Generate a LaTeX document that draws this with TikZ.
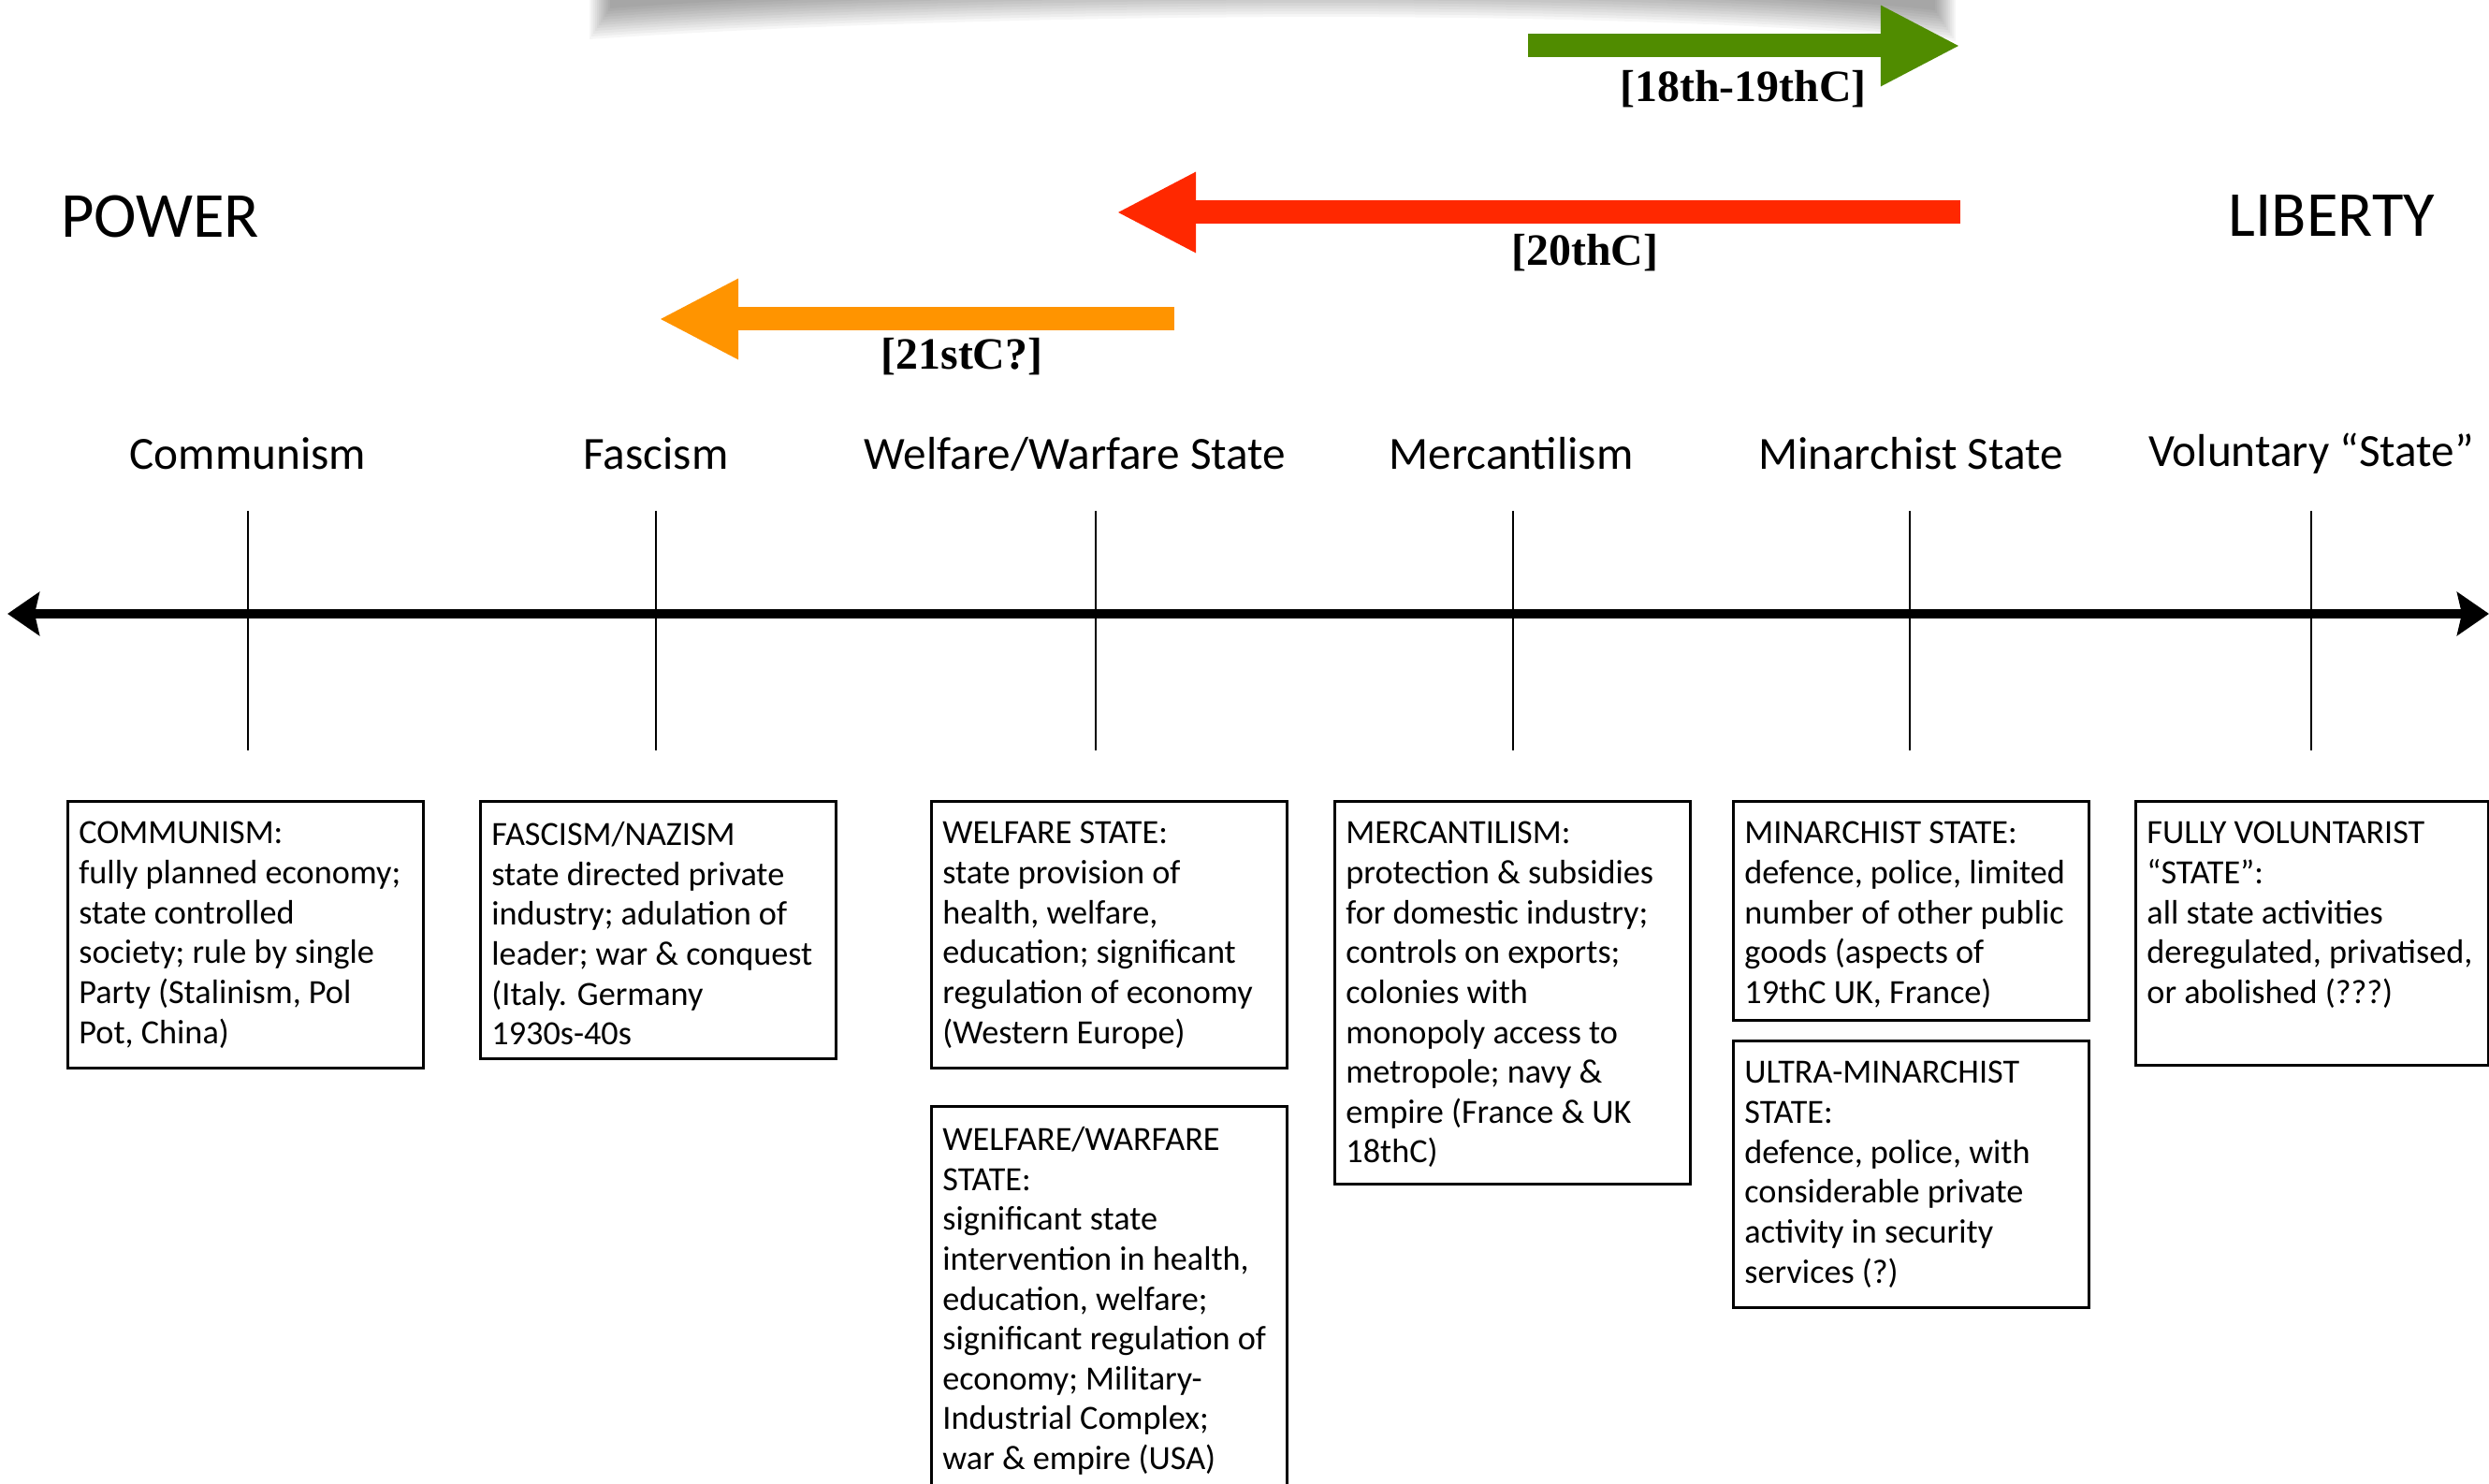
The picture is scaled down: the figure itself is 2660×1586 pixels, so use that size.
\documentclass[tikz,border=0pt]{standalone}
\usepackage{fontspec}
\newfontfamily\gill{Carlito}
\newfontfamily\bookish{Liberation Serif}
\usetikzlibrary{arrows.meta}

\definecolor{eragreen}{RGB}{80,140,0}
\definecolor{erared}{RGB}{255,40,0}
\definecolor{eraorange}{RGB}{255,148,0}

\newcommand{\boxtext}[3][3.56cm]{\parbox[t][#2][t]{#1}{\raggedright #3}}

\begin{document}
\begin{tikzpicture}[
    x=0.01cm, y=-0.01cm,
    pole/.style={font=\gill\fontsize{19.5}{22}\selectfont},
    regime/.style={font=\gill\fontsize{14}{17}\selectfont},
    infobox/.style={draw, line width=0.8pt, anchor=north west, inner xsep=0.12cm, inner ysep=0.22cm,
        font=\gill\fontsize{10.3}{12.12}\selectfont},
    era/.style={line width=0.25cm, -{Triangle[length=0.85cm 0, width=0.8cm 0]}},
    eralbl/.style={font=\bookish\bfseries\fontsize{13.6}{15}\selectfont},
    tick/.style={line width=0.75pt}
]
\useasboundingbox (0,0) rectangle (2660,1586);

% Shadow at the top
\foreach \k in {0,...,11} {
    \fill[black, opacity=0.035] (630+2*\k,0) -- (630+2*\k,42-3*\k)
        .. controls (1000,16-3*\k) and (1700,4-3*\k) .. (2090-2*\k,44-3*\k) -- (2090-2*\k,0) -- cycle;
}

% Poles
\node[pole] (power) at (171,231) {POWER};
\node[pole] (liberty) at (2492,231) {LIBERTY};

% Eras
\coordinate (g0) at (1633,49);
\coordinate (g1) at (2095,49);
\coordinate (r0) at (2095,227);
\coordinate (r1) at (1193,227);
\coordinate (o0) at (1255,341);
\coordinate (o1) at (704,341);
\draw[era, eragreen] (g0) -- (g1);
\draw[era, erared] (r0) -- (r1);
\draw[era, eraorange] (o0) -- (o1);
\node[eralbl] (e1819) at (1863,95) {[18th-19thC]};
\node[eralbl] (e20) at (1694,270) {[20thC]};
\node[eralbl] (e21) at (1028,381) {[21stC?]};

% Regimes
\node[regime] (comm) at (265,485) {Communism};
\node[regime] (fasc) at (701,485) {Fascism};
\node[regime] (welf) at (1149,485) {Welfare/Warfare State};
\node[regime] (merc) at (1615,485) {Mercantilism};
\node[regime] (mina) at (2042,485) {Minarchist State};
\node[regime] (volu) at (2470,485) {Voluntary “State”};

% Axis
\coordinate (axl) at (8,656);
\coordinate (axr) at (2660,656);
\draw[line width=3pt, {Stealth[length=0.34cm 0, width=0.46cm 0, inset=0.05cm 0]}-{Stealth[length=0.34cm 0, width=0.46cm 0, inset=0.05cm 0]}] (axl) -- (axr);
\foreach \x in {265,701,1171,1617,2041,2470} {
    \draw[tick] (\x,546) -- (\x,802);
}

% Boxes
\node[infobox] (commbox) at (71,855) {\boxtext{2.41cm}{COMMUNISM:\\ fully planned economy;\\ state controlled\\ society; rule by single\\ Party (Stalinism, Pol\\ Pot, China)}};
\node[infobox] (fascbox) at (512,855) {\boxtext{2.31cm}{FASCISM/NAZISM\\ state directed private\\ industry; adulation of\\ leader; war \& conquest\\ (Italy. Germany\\ 1930s-40s}};
\node[infobox] (welfbox) at (994,855) {\boxtext{2.41cm}{WELFARE STATE:\\ state provision of\\ health, welfare,\\ education; significant\\ regulation of economy\\ (Western Europe)}};
\node[infobox] (warfbox) at (994,1181) {\boxtext{4.20cm}{WELFARE/WARFARE\\ STATE:\\ significant state\\ intervention in health,\\ education, welfare;\\ significant regulation of\\ economy; Military-\\ Industrial Complex;\\ war \& empire (USA)}};
\node[infobox] (mercbox) at (1425,855) {\boxtext{3.65cm}{MERCANTILISM:\\ protection \& subsidies\\ for domestic industry;\\ controls on exports;\\ colonies with\\ monopoly access to\\ metropole; navy \&\\ empire (France \& UK\\ 18thC)}};
\node[infobox] (minabox) at (1851,855) {\boxtext{1.90cm}{MINARCHIST STATE:\\ defence, police, limited\\ number of other public\\ goods (aspects of\\ 19thC UK, France)}};
\node[infobox] (ultrabox) at (1851,1111) {\boxtext{2.41cm}{ULTRA-MINARCHIST\\ STATE:\\ defence, police, with\\ considerable private\\ activity in security\\ services (?)}};
\node[infobox] (volubox) at (2281,855) {\boxtext[3.53cm]{2.38cm}{FULLY VOLUNTARIST\\ “STATE”:\\ all state activities\\ deregulated, privatised,\\ or abolished (???)}};

\end{tikzpicture}
\end{document}
